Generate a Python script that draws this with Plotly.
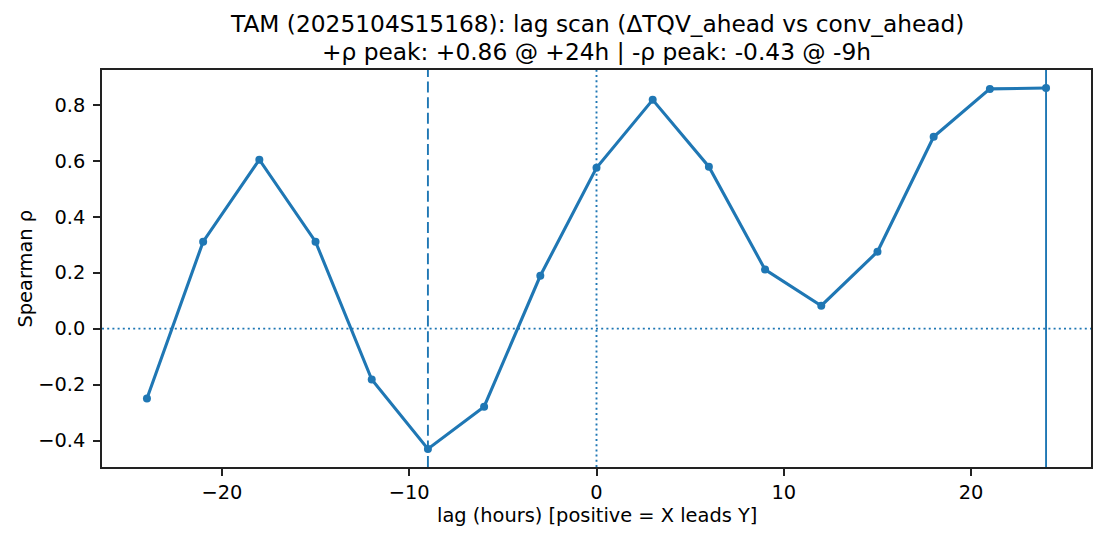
import plotly.graph_objects as go

lags = [-24, -21, -18, -15, -12, -9, -6, -3, 0, 3, 6, 9, 12, 15, 18, 21, 24]
rho = [-0.25, 0.311, 0.604, 0.311, -0.182, -0.43, -0.279, 0.189, 0.575, 0.818,
       0.579, 0.211, 0.082, 0.275, 0.686, 0.857, 0.86]
pos_peak_lag = 24
neg_peak_lag = -9
title_lines = ["TAM (2025104S15168): lag scan (ΔTQV_ahead vs conv_ahead)",
               "+ρ peak: +0.86 @ +24h | -ρ peak: -0.43 @ -9h"]
x_ticks = [-20, -10, 0, 10, 20]
y_ticks = [-0.4, -0.2, 0.0, 0.2, 0.4, 0.6, 0.8]

C = "#1f77b4"
FONT = "DejaVu Sans"
AX = "#222222"
FS = 19.4
TFS = 23.3


def fmt(v, d):
    s = f"{v:.{d}f}"
    return s.replace("-", "−")


fig = go.Figure()
fig.add_hline(y=0, line=dict(color=C, width=1.9, dash="2px,3.2px"))
fig.add_vline(x=0, line=dict(color=C, width=1.9, dash="2px,3.2px"))
fig.add_vline(x=neg_peak_lag, line=dict(color=C, width=1.9, dash="11px,4.6px"))
fig.add_vline(x=pos_peak_lag, line=dict(color=C, width=1.9))

fig.add_trace(go.Scatter(x=lags, y=rho, mode="lines+markers",
                         line=dict(color=C, width=3.1),
                         marker=dict(color=C, size=8), showlegend=False))

fig.update_layout(
    width=1097, height=532,
    margin=dict(l=94, r=14, t=62, b=73),
    paper_bgcolor="white", plot_bgcolor="white",
    font=dict(family=FONT, size=FS, color="black"),
)
fig.add_annotation(text=title_lines[0], xref="paper", yref="paper", x=0.5, y=1,
                   yanchor="middle", yshift=47, showarrow=False, font=dict(size=TFS))
fig.add_annotation(text=title_lines[1], xref="paper", yref="paper", x=0.5, y=1,
                   yanchor="middle", yshift=19, showarrow=False, font=dict(size=TFS))
fig.add_annotation(text="lag (hours) [positive = X leads Y]", xref="paper", yref="paper",
                   x=0.5, y=0, yanchor="middle", yshift=-48, showarrow=False, font=dict(size=FS))
fig.add_annotation(text="Spearman ρ", xref="paper", yref="paper", x=0, y=0.5,
                   xanchor="center", xshift=-77, textangle=-90, showarrow=False, font=dict(size=FS))

fig.update_xaxes(range=[-26.4, 26.4], tickvals=x_ticks,
                 ticktext=[fmt(v, 0) for v in x_ticks],
                 showgrid=False, zeroline=False, showline=True, linecolor=AX,
                 linewidth=1.5, mirror=True, ticks="outside", ticklen=7, tickwidth=1.5,
                 tickcolor=AX)
fig.update_yaxes(range=[-0.4945, 0.9245], tickvals=y_ticks,
                 ticktext=[fmt(v, 1) for v in y_ticks],
                 showgrid=False, zeroline=False, showline=True, linecolor=AX,
                 linewidth=1.5, mirror=True, ticks="outside", ticklen=7, tickwidth=1.5,
                 tickcolor=AX, ticklabelstandoff=4)

fig.write_html("out.html")
